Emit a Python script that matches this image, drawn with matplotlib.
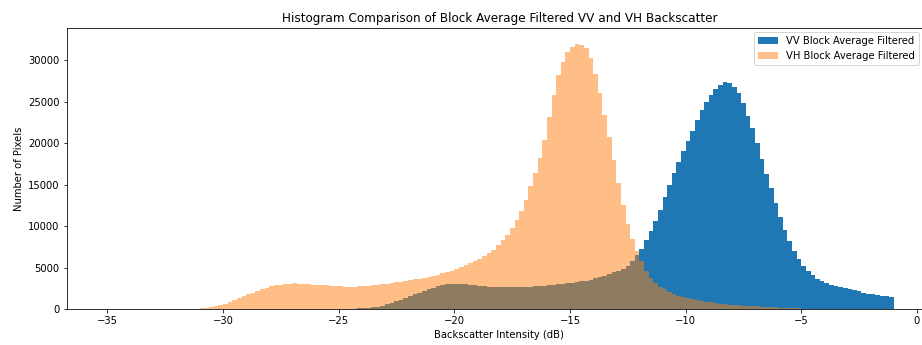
import numpy as np
import matplotlib.pyplot as plt

# histogram bin counts (in thousands of pixels), 0.2 dB bins
bin_width = 0.2

vh_first_edge = -31.6
vh_counts_k = [
    0.04, 0.06, 0.09, 0.13, 0.19, 0.27, 0.38, 0.52, 0.68, 0.88,
    1.10, 1.35, 1.60, 1.80, 2.00, 2.22, 2.40, 2.58, 2.75, 2.88,
    2.97, 3.03, 3.08, 3.12, 3.10, 3.05, 3.00, 2.95, 2.92, 2.90,
    2.87, 2.84, 2.80, 2.76, 2.70, 2.66, 2.70, 2.75, 2.78, 2.82,
    2.88, 2.94, 3.00, 3.10, 3.17, 3.24, 3.32, 3.42, 3.50, 3.60,
    3.70, 3.80, 3.92, 4.05, 4.18, 4.32, 4.48, 4.65, 4.88, 5.10,
    5.35, 5.60, 5.85, 6.10, 6.40, 6.75, 7.15, 7.70, 8.30, 9.00,
    9.80, 10.7, 11.8, 13.2, 14.8, 16.4, 18.2, 20.4, 23.2, 25.8,
    28.2, 29.8, 31.0, 31.6, 31.9, 31.8, 31.4, 30.2, 28.3, 26.0,
    23.4, 20.7, 18.0, 15.2, 12.6, 10.3, 8.50, 7.00, 5.80, 4.60,
    3.80, 3.20, 2.70, 2.40, 2.10, 1.85, 1.65, 1.48, 1.35, 1.22,
    1.10, 1.00, 0.90, 0.82, 0.75, 0.68, 0.62, 0.57, 0.52, 0.48,
    0.45, 0.41, 0.38, 0.35, 0.32, 0.29, 0.26, 0.23, 0.20, 0.17,
    0.14, 0.12, 0.10, 0.08, 0.06, 0.05, 0.04, 0.03, 0.02, 0.02,
    0.01, 0.01, 0.01,
]

vv_first_edge = -25.0
vv_counts_k = [
    0.02, 0.04, 0.06, 0.08, 0.10, 0.14, 0.19, 0.25, 0.33, 0.43,
    0.60, 0.78, 0.95, 1.15, 1.35, 1.57, 1.80, 2.02, 2.22, 2.42,
    2.60, 2.78, 2.92, 3.02, 3.08, 3.10, 3.07, 3.02, 2.95, 2.88,
    2.82, 2.76, 2.70, 2.66, 2.64, 2.63, 2.63, 2.64, 2.65, 2.67,
    2.69, 2.72, 2.76, 2.80, 2.85, 2.90, 2.96, 3.02, 3.08, 3.14,
    3.20, 3.27, 3.35, 3.45, 3.58, 3.72, 3.88, 4.05, 4.25, 4.45,
    4.65, 4.90, 5.25, 5.80, 6.50, 7.30, 8.30, 9.40, 10.6, 12.0,
    13.5, 15.0, 16.4, 17.7, 19.0, 20.2, 21.5, 22.8, 24.0, 25.0,
    25.8, 26.5, 27.0, 27.3, 27.2, 26.8, 26.0, 24.8, 23.3, 21.8,
    20.0, 18.1, 16.3, 14.6, 12.8, 11.1, 9.60, 8.20, 7.00, 6.00,
    5.20, 4.60, 4.10, 3.70, 3.40, 3.15, 2.95, 2.80, 2.68, 2.55,
    2.42, 2.28, 2.15, 2.02, 1.90, 1.80, 1.70, 1.62, 1.55, 1.48,
]


def bin_edges(first_edge, n):
    return first_edge + bin_width * np.arange(n + 1)


vv_edges = bin_edges(vv_first_edge, len(vv_counts_k))
vh_edges = bin_edges(vh_first_edge, len(vh_counts_k))

W, H = 922, 345
fig = plt.figure(figsize=(W / 72, H / 72), dpi=72)
# axes run slightly past the right border, like the cropped original
ax = fig.add_axes([66.7 / W, 1 - 309.3 / H, (932 - 66.7) / W, (309.3 - 27.7) / H])

ax.hist(vv_edges[:-1] + bin_width / 2, bins=vv_edges,
        weights=np.array(vv_counts_k) * 1000, histtype='stepfilled',
        color='C0', label='VV Block Average Filtered')
ax.hist(vh_edges[:-1] + bin_width / 2, bins=vh_edges,
        weights=np.array(vh_counts_k) * 1000, histtype='stepfilled',
        color='C1', alpha=0.5, label='VH Block Average Filtered')

ax.set_xlim(-36.76, 0.65)
ax.set_ylim(0, 33890)
ax.set_title('Histogram Comparison of Block Average Filtered VV and VH Backscatter')
ax.set_xlabel('Backscatter Intensity (dB)')
ax.set_ylabel('Number of Pixels')

# keep the whole legend inside the picture
ax.legend(loc='upper right', bbox_to_anchor=(919 / W, 1 - 32 / H),
          bbox_transform=fig.transFigure, borderaxespad=0)

fig.savefig('out.png', dpi=72)
